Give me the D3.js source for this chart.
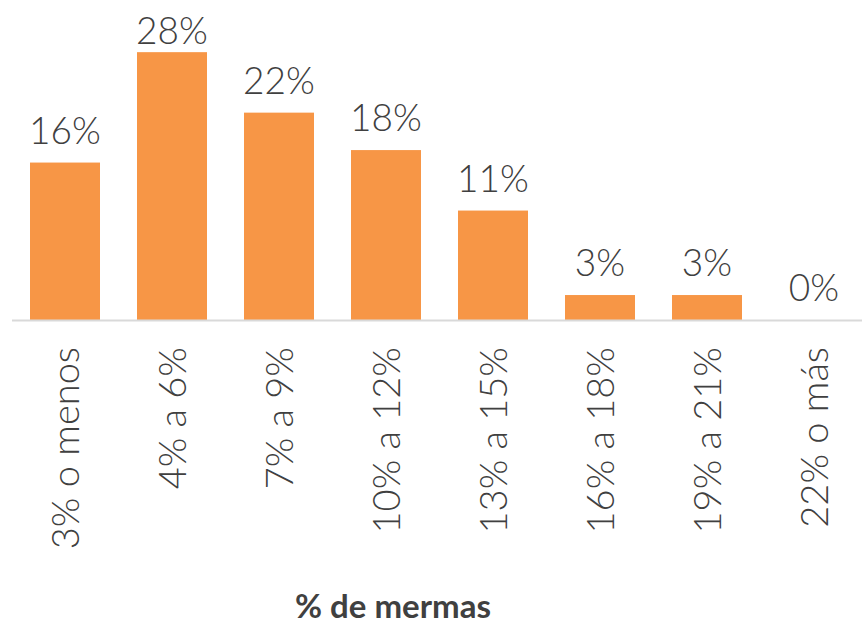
<!DOCTYPE html>
<html>
<head>
<meta charset="utf-8">
<script src="https://cdn.jsdelivr.net/npm/d3@7"></script>
<style>
  body { margin: 0; background: #fff; }
  svg { display: block; font-family: Lato, "Noto Sans", sans-serif; }
</style>
</head>
<body>
<svg width="862" height="625"></svg>
<script>
// categories (rangos de mermas)
var categories = ["3% o menos", "4% a 6%", "7% a 9%", "10% a 12%",
                  "13% a 15%", "16% a 18%", "19% a 21%", "22% o más"];
// share of respondents, in %
var values = [16.4, 27.9, 21.6, 17.7, 11.4, 2.6, 2.6, 0];
var axisTitle = "% de mermas";

var width = 862, height = 625;
var axisY = 320, plotTop = 32;

var svg = d3.select("svg");

// set the ranges
var xScale = d3.scaleBand()
    .domain(categories)
    .range([11.5, 867.5])
    .paddingInner(37 / 107)
    .paddingOuter(18.5 / 107);

var yScale = d3.scaleLinear()
    .domain([0, 30])
    .range([axisY, plotTop]);

// bars
svg.append("g").selectAll("rect")
    .data(values)
  .enter().append("rect")
    .attr("x", function(d, i) { return xScale(categories[i]); })
    .attr("y", function(d) { return yScale(d); })
    .attr("width", xScale.bandwidth())
    .attr("height", function(d) { return axisY - yScale(d); })
    .style("fill", "#F79646");

// x axis, only the base line is visible
var xAxis = svg.append("g")
    .attr("transform", "translate(0," + axisY + ")")
    .call(d3.axisBottom(xScale).tickSize(0).tickFormat(""));
xAxis.select(".domain")
    .style("stroke", "#D9D9D9")
    .style("stroke-width", 2);

// category labels, rotated
svg.append("g").selectAll("text")
    .data(categories)
  .enter().append("text")
    .attr("transform", function(d) {
        return "translate(" + (xScale(d) + xScale.bandwidth() / 2) + "," + (axisY + 27) + ") rotate(-90)";
    })
    .attr("text-anchor", "end")
    .attr("dy", "0.37em")
    .style("font-size", "38px")
    .style("font-weight", 300)
    .style("fill", "#404040")
    .text(function(d) { return d; });

// value labels above the bars (kept inside the plot)
svg.append("g").selectAll("text")
    .data(values)
  .enter().append("text")
    .attr("x", function(d, i) { return xScale(categories[i]) + xScale.bandwidth() / 2; })
    .attr("y", function(d) { return Math.max(yScale(d) - 19, 44); })
    .attr("text-anchor", "middle")
    .style("font-size", "37px")
    .style("font-weight", 300)
    .style("fill", "#404040")
    .text(function(d) { return Math.round(d) + "%"; });

// axis title
svg.append("text")
    .attr("x", 393)
    .attr("y", 618)
    .attr("text-anchor", "middle")
    .style("font-size", "33px")
    .style("font-weight", "bold")
    .style("fill", "#404040")
    .text(axisTitle);
</script>
</body>
</html>
